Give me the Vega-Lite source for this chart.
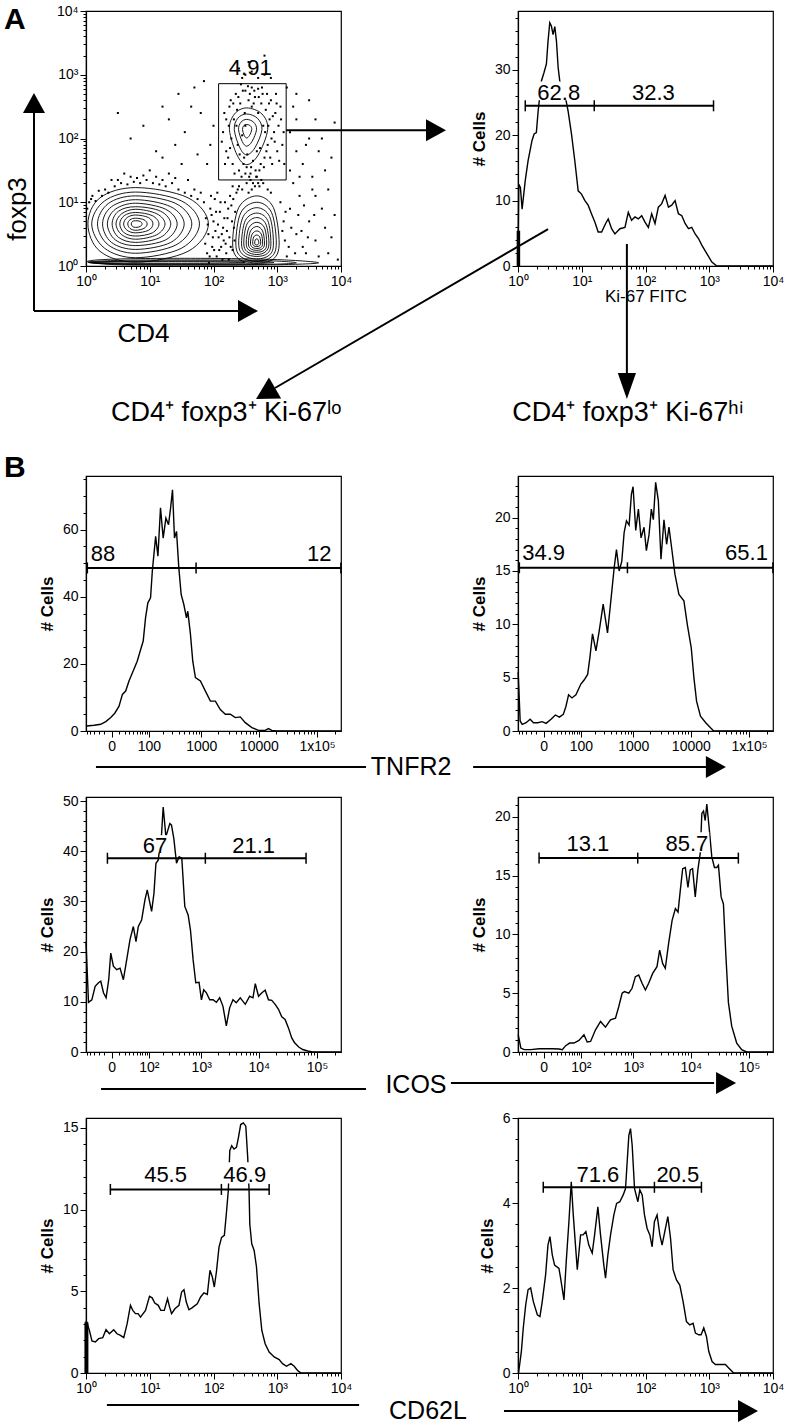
{
"$schema":"https://vega.github.io/schema/vega-lite/v6.json",
"background":"white",
"padding":{"left":3,"top":3,"right":2,"bottom":0},
"autosize":{"type":"pad"},
"columns":2,
"spacing":{"row":0,"column":177},
"bounds":"flush",
"config":{
 "font":"Liberation Sans",
 "view":{"stroke":"black","strokeWidth":1.2},
 "axis":{"domainColor":"black","domainWidth":1.2,"tickColor":"black","tickWidth":1,"labelColor":"black","titleColor":"black","labelFont":"Liberation Sans","titleFont":"Liberation Sans","labelFontSize":14,"labelPadding":2,"grid":false,"labelOverlap":false,"labelFlush":false,"titleFontSize":17,"titleFontWeight":"bold","titlePadding":6},
 "text":{"font":"Liberation Sans","color":"black"}
},
"concat":[
{
 "width":255,"height":255,
 "encoding":{
  "x":{"field":"x","type":"quantitative","scale":{"domain":[0,4],"nice":false,"zero":false},"axis":{"values":[0,0.301,0.477,0.602,0.699,0.778,0.845,0.903,0.954,1,1.301,1.477,1.602,1.699,1.778,1.845,1.903,1.954,2,2.301,2.477,2.602,2.699,2.778,2.845,2.903,2.954,3,3.301,3.477,3.602,3.699,3.778,3.845,3.903,3.954,4],"labelExpr":"datum.value == 0 ? '10\u2070' : datum.value == 1 ? '10\u00b9' : datum.value == 2 ? '10\u00b2' : datum.value == 3 ? '10\u00b3' : datum.value == 4 ? '10\u2074' : ''","tickSize":{"condition":{"test":"datum.value % 1 == 0","value":6},"value":3},"title":null}},
  "y":{"field":"y","type":"quantitative","scale":{"domain":[0,4],"nice":false,"zero":false},"axis":{"values":[0,0.301,0.477,0.602,0.699,0.778,0.845,0.903,0.954,1,1.301,1.477,1.602,1.699,1.778,1.845,1.903,1.954,2,2.301,2.477,2.602,2.699,2.778,2.845,2.903,2.954,3,3.301,3.477,3.602,3.699,3.778,3.845,3.903,3.954,4],"labelExpr":"datum.value == 0 ? '10\u2070' : datum.value == 1 ? '10\u00b9' : datum.value == 2 ? '10\u00b2' : datum.value == 3 ? '10\u00b3' : datum.value == 4 ? '10\u2074' : ''","tickSize":{"condition":{"test":"datum.value % 1 == 0","value":6},"value":3},"title":null}}
 },
 "layer":[
  {"data":{"values":[
{"c":"b1a","i":0,"x":1.92,"y":0.66},{"c":"b1a","i":1,"x":1.6,"y":1.07},{"c":"b1a","i":2,"x":0.78,"y":1.23},{"c":"b1a","i":3,"x":0.22,"y":1.07},{"c":"b1a","i":4,"x":0.03,"y":0.66},{"c":"b1a","i":5,"x":0.22,"y":0.23},{"c":"b1a","i":6,"x":0.78,"y":0.06},{"c":"b1a","i":7,"x":1.6,"y":0.23},
{"c":"b1b","i":0,"x":1.78,"y":0.66},{"c":"b1b","i":1,"x":1.5,"y":1.02},{"c":"b1b","i":2,"x":0.78,"y":1.16},{"c":"b1b","i":3,"x":0.29,"y":1.02},{"c":"b1b","i":4,"x":0.09,"y":0.66},{"c":"b1b","i":5,"x":0.29,"y":0.28},{"c":"b1b","i":6,"x":0.78,"y":0.13},{"c":"b1b","i":7,"x":1.5,"y":0.28},
{"c":"b1c","i":0,"x":1.66,"y":0.66},{"c":"b1c","i":1,"x":1.41,"y":0.98},{"c":"b1c","i":2,"x":0.78,"y":1.1},{"c":"b1c","i":3,"x":0.35,"y":0.98},{"c":"b1c","i":4,"x":0.18,"y":0.66},{"c":"b1c","i":5,"x":0.35,"y":0.33},{"c":"b1c","i":6,"x":0.78,"y":0.2},{"c":"b1c","i":7,"x":1.41,"y":0.33},
{"c":"b1d","i":0,"x":1.54,"y":0.66},{"c":"b1d","i":1,"x":1.33,"y":0.93},{"c":"b1d","i":2,"x":0.78,"y":1.04},{"c":"b1d","i":3,"x":0.4,"y":0.93},{"c":"b1d","i":4,"x":0.26,"y":0.66},{"c":"b1d","i":5,"x":0.4,"y":0.37},{"c":"b1d","i":6,"x":0.78,"y":0.26},{"c":"b1d","i":7,"x":1.33,"y":0.37},
{"c":"b1e","i":0,"x":1.43,"y":0.66},{"c":"b1e","i":1,"x":1.25,"y":0.89},{"c":"b1e","i":2,"x":0.78,"y":0.985},{"c":"b1e","i":3,"x":0.46,"y":0.89},{"c":"b1e","i":4,"x":0.335,"y":0.66},{"c":"b1e","i":5,"x":0.46,"y":0.41},{"c":"b1e","i":6,"x":0.78,"y":0.32},{"c":"b1e","i":7,"x":1.25,"y":0.41},
{"c":"b1f","i":0,"x":1.33,"y":0.66},{"c":"b1f","i":1,"x":1.17,"y":0.86},{"c":"b1f","i":2,"x":0.78,"y":0.93},{"c":"b1f","i":3,"x":0.51,"y":0.86},{"c":"b1f","i":4,"x":0.41,"y":0.66},{"c":"b1f","i":5,"x":0.51,"y":0.45},{"c":"b1f","i":6,"x":0.78,"y":0.37},{"c":"b1f","i":7,"x":1.17,"y":0.45},
{"c":"b1g","i":0,"x":1.24,"y":0.66},{"c":"b1g","i":1,"x":1.11,"y":0.82},{"c":"b1g","i":2,"x":0.78,"y":0.89},{"c":"b1g","i":3,"x":0.56,"y":0.82},{"c":"b1g","i":4,"x":0.47,"y":0.66},{"c":"b1g","i":5,"x":0.56,"y":0.49},{"c":"b1g","i":6,"x":0.78,"y":0.42},{"c":"b1g","i":7,"x":1.11,"y":0.49},
{"c":"b1h","i":0,"x":1.145,"y":0.66},{"c":"b1h","i":1,"x":1.04,"y":0.79},{"c":"b1h","i":2,"x":0.78,"y":0.84},{"c":"b1h","i":3,"x":0.6,"y":0.79},{"c":"b1h","i":4,"x":0.53,"y":0.66},{"c":"b1h","i":5,"x":0.6,"y":0.52},{"c":"b1h","i":6,"x":0.78,"y":0.47},{"c":"b1h","i":7,"x":1.04,"y":0.52},
{"c":"b1i","i":0,"x":1.05,"y":0.66},{"c":"b1i","i":1,"x":0.98,"y":0.76},{"c":"b1i","i":2,"x":0.78,"y":0.8},{"c":"b1i","i":3,"x":0.645,"y":0.76},{"c":"b1i","i":4,"x":0.59,"y":0.66},{"c":"b1i","i":5,"x":0.645,"y":0.56},{"c":"b1i","i":6,"x":0.78,"y":0.52},{"c":"b1i","i":7,"x":0.98,"y":0.56},
{"c":"b1j","i":0,"x":0.96,"y":0.66},{"c":"b1j","i":1,"x":0.91,"y":0.725},{"c":"b1j","i":2,"x":0.78,"y":0.75},{"c":"b1j","i":3,"x":0.69,"y":0.725},{"c":"b1j","i":4,"x":0.655,"y":0.66},{"c":"b1j","i":5,"x":0.69,"y":0.59},{"c":"b1j","i":6,"x":0.78,"y":0.56},{"c":"b1j","i":7,"x":0.91,"y":0.59},
{"c":"b1k","i":0,"x":0.88,"y":0.66},{"c":"b1k","i":1,"x":0.85,"y":0.7},{"c":"b1k","i":2,"x":0.78,"y":0.71},{"c":"b1k","i":3,"x":0.73,"y":0.7},{"c":"b1k","i":4,"x":0.71,"y":0.66},{"c":"b1k","i":5,"x":0.73,"y":0.62},{"c":"b1k","i":6,"x":0.78,"y":0.605},{"c":"b1k","i":7,"x":0.85,"y":0.62},
{"c":"b2a","i":0,"x":3.03,"y":0.36},{"c":"b2a","i":1,"x":2.94,"y":0.915},{"c":"b2a","i":2,"x":2.68,"y":1.1},{"c":"b2a","i":3,"x":2.395,"y":0.915},{"c":"b2a","i":4,"x":2.3,"y":0.36},{"c":"b2a","i":5,"x":2.395,"y":0.11},{"c":"b2a","i":6,"x":2.68,"y":0.05},{"c":"b2a","i":7,"x":2.94,"y":0.11},
{"c":"b2b","i":0,"x":2.985,"y":0.36},{"c":"b2b","i":1,"x":2.91,"y":0.84},{"c":"b2b","i":2,"x":2.68,"y":1.0},{"c":"b2b","i":3,"x":2.43,"y":0.84},{"c":"b2b","i":4,"x":2.35,"y":0.36},{"c":"b2b","i":5,"x":2.43,"y":0.145},{"c":"b2b","i":6,"x":2.68,"y":0.073},{"c":"b2b","i":7,"x":2.91,"y":0.145},
{"c":"b2c","i":0,"x":2.94,"y":0.36},{"c":"b2c","i":1,"x":2.88,"y":0.776},{"c":"b2c","i":2,"x":2.68,"y":0.915},{"c":"b2c","i":3,"x":2.466,"y":0.776},{"c":"b2c","i":4,"x":2.395,"y":0.36},{"c":"b2c","i":5,"x":2.466,"y":0.174},{"c":"b2c","i":6,"x":2.68,"y":0.11},{"c":"b2c","i":7,"x":2.88,"y":0.174},
{"c":"b2d","i":0,"x":2.9,"y":0.36},{"c":"b2d","i":1,"x":2.85,"y":0.715},{"c":"b2d","i":2,"x":2.68,"y":0.83},{"c":"b2d","i":3,"x":2.5,"y":0.715},{"c":"b2d","i":4,"x":2.44,"y":0.36},{"c":"b2d","i":5,"x":2.5,"y":0.2},{"c":"b2d","i":6,"x":2.68,"y":0.15},{"c":"b2d","i":7,"x":2.85,"y":0.2},
{"c":"b2e","i":0,"x":2.87,"y":0.36},{"c":"b2e","i":1,"x":2.82,"y":0.66},{"c":"b2e","i":2,"x":2.68,"y":0.76},{"c":"b2e","i":3,"x":2.526,"y":0.66},{"c":"b2e","i":4,"x":2.475,"y":0.36},{"c":"b2e","i":5,"x":2.526,"y":0.226},{"c":"b2e","i":6,"x":2.68,"y":0.18},{"c":"b2e","i":7,"x":2.82,"y":0.226},
{"c":"b2f","i":0,"x":2.834,"y":0.36},{"c":"b2f","i":1,"x":2.8,"y":0.6},{"c":"b2f","i":2,"x":2.68,"y":0.686},{"c":"b2f","i":3,"x":2.555,"y":0.6},{"c":"b2f","i":4,"x":2.513,"y":0.36},{"c":"b2f","i":5,"x":2.555,"y":0.25},{"c":"b2f","i":6,"x":2.68,"y":0.215},{"c":"b2f","i":7,"x":2.8,"y":0.25},
{"c":"b2g","i":0,"x":2.8,"y":0.36},{"c":"b2g","i":1,"x":2.77,"y":0.55},{"c":"b2g","i":2,"x":2.68,"y":0.62},{"c":"b2g","i":3,"x":2.58,"y":0.55},{"c":"b2g","i":4,"x":2.547,"y":0.36},{"c":"b2g","i":5,"x":2.58,"y":0.273},{"c":"b2g","i":6,"x":2.68,"y":0.245},{"c":"b2g","i":7,"x":2.77,"y":0.273},
{"c":"b2h","i":0,"x":2.77,"y":0.36},{"c":"b2h","i":1,"x":2.75,"y":0.5},{"c":"b2h","i":2,"x":2.68,"y":0.55},{"c":"b2h","i":3,"x":2.606,"y":0.5},{"c":"b2h","i":4,"x":2.58,"y":0.36},{"c":"b2h","i":5,"x":2.606,"y":0.295},{"c":"b2h","i":6,"x":2.68,"y":0.274},{"c":"b2h","i":7,"x":2.75,"y":0.295},
{"c":"b2i","i":0,"x":2.74,"y":0.36},{"c":"b2i","i":1,"x":2.725,"y":0.455},{"c":"b2i","i":2,"x":2.68,"y":0.486},{"c":"b2i","i":3,"x":2.63,"y":0.455},{"c":"b2i","i":4,"x":2.615,"y":0.36},{"c":"b2i","i":5,"x":2.63,"y":0.318},{"c":"b2i","i":6,"x":2.68,"y":0.304},{"c":"b2i","i":7,"x":2.725,"y":0.318},
{"c":"b2j","i":0,"x":2.712,"y":0.36},{"c":"b2j","i":1,"x":2.7,"y":0.41},{"c":"b2j","i":2,"x":2.68,"y":0.427},{"c":"b2j","i":3,"x":2.655,"y":0.41},{"c":"b2j","i":4,"x":2.646,"y":0.36},{"c":"b2j","i":5,"x":2.655,"y":0.338},{"c":"b2j","i":6,"x":2.68,"y":0.33},{"c":"b2j","i":7,"x":2.7,"y":0.338},
{"c":"b3a","i":0,"x":2.85,"y":2.14},{"c":"b3a","i":1,"x":2.76,"y":2.385},{"c":"b3a","i":2,"x":2.52,"y":2.48},{"c":"b3a","i":3,"x":2.33,"y":2.385},{"c":"b3a","i":4,"x":2.25,"y":2.14},{"c":"b3a","i":5,"x":2.37,"y":1.74},{"c":"b3a","i":6,"x":2.52,"y":1.59},{"c":"b3a","i":7,"x":2.7,"y":1.74},
{"c":"b3b","i":0,"x":2.76,"y":2.14},{"c":"b3b","i":1,"x":2.69,"y":2.316},{"c":"b3b","i":2,"x":2.52,"y":2.385},{"c":"b3b","i":3,"x":2.38,"y":2.316},{"c":"b3b","i":4,"x":2.326,"y":2.14},{"c":"b3b","i":5,"x":2.413,"y":1.855},{"c":"b3b","i":6,"x":2.52,"y":1.744},{"c":"b3b","i":7,"x":2.65,"y":1.855},
{"c":"b3c","i":0,"x":2.675,"y":2.14},{"c":"b3c","i":1,"x":2.63,"y":2.255},{"c":"b3c","i":2,"x":2.52,"y":2.3},{"c":"b3c","i":3,"x":2.43,"y":2.255},{"c":"b3c","i":4,"x":2.393,"y":2.14},{"c":"b3c","i":5,"x":2.45,"y":1.954},{"c":"b3c","i":6,"x":2.52,"y":1.88},{"c":"b3c","i":7,"x":2.605,"y":1.954},
{"c":"b3d","i":0,"x":2.6,"y":2.14},{"c":"b3d","i":1,"x":2.577,"y":2.2},{"c":"b3d","i":2,"x":2.52,"y":2.22},{"c":"b3d","i":3,"x":2.473,"y":2.2},{"c":"b3d","i":4,"x":2.455,"y":2.14},{"c":"b3d","i":5,"x":2.484,"y":2.045},{"c":"b3d","i":6,"x":2.52,"y":2.008},{"c":"b3d","i":7,"x":2.563,"y":2.045},
{"c":"bda","i":0,"x":3.65,"y":0.05},{"c":"bda","i":1,"x":3.0,"y":0.1},{"c":"bda","i":2,"x":1.8,"y":0.12},{"c":"bda","i":3,"x":0.5,"y":0.11},{"c":"bda","i":4,"x":0.02,"y":0.07},{"c":"bda","i":5,"x":0.5,"y":0.02},{"c":"bda","i":6,"x":1.8,"y":0.015},{"c":"bda","i":7,"x":3.0,"y":0.02},
{"c":"bdb","i":0,"x":3.3,"y":0.05},{"c":"bdb","i":1,"x":2.8,"y":0.085},{"c":"bdb","i":2,"x":1.8,"y":0.095},{"c":"bdb","i":3,"x":0.6,"y":0.09},{"c":"bdb","i":4,"x":0.03,"y":0.06},{"c":"bdb","i":5,"x":0.6,"y":0.025},{"c":"bdb","i":6,"x":1.8,"y":0.02},{"c":"bdb","i":7,"x":2.8,"y":0.025},
{"c":"bdc","i":0,"x":2.95,"y":0.055},{"c":"bdc","i":1,"x":2.5,"y":0.075},{"c":"bdc","i":2,"x":1.6,"y":0.08},{"c":"bdc","i":3,"x":0.6,"y":0.075},{"c":"bdc","i":4,"x":0.05,"y":0.055},{"c":"bdc","i":5,"x":0.6,"y":0.035},{"c":"bdc","i":6,"x":1.6,"y":0.03},{"c":"bdc","i":7,"x":2.5,"y":0.035},
{"c":"bdd","i":0,"x":2.5,"y":0.055},{"c":"bdd","i":1,"x":2.1,"y":0.065},{"c":"bdd","i":2,"x":1.4,"y":0.068},{"c":"bdd","i":3,"x":0.5,"y":0.065},{"c":"bdd","i":4,"x":0.1,"y":0.055},{"c":"bdd","i":5,"x":0.5,"y":0.045},{"c":"bdd","i":6,"x":1.4,"y":0.042},{"c":"bdd","i":7,"x":2.1,"y":0.045}
  ]},"mark":{"type":"line","color":"black","strokeWidth":0.9,"interpolate":"cardinal-closed"},"encoding":{"detail":{"field":"c"},"order":{"field":"i","type":"quantitative"}}},
  {"data":{"values":[
{"x":2.15,"y":2.1},{"x":2.2,"y":1.8},{"x":2.25,"y":2.5},{"x":2.3,"y":1.6},{"x":2.32,"y":2.3},{"x":2.35,"y":2.7},{"x":2.38,"y":1.9},{"x":2.4,"y":1.5},{"x":2.42,"y":2.55},{"x":2.45,"y":2.05},{"x":2.48,"y":1.7},{"x":2.5,"y":2.75},{"x":2.52,"y":1.55},{"x":2.55,"y":2.6},{"x":2.58,"y":1.45},{"x":2.6,"y":2.5},{"x":2.62,"y":1.65},{"x":2.65,"y":2.65},{"x":2.68,"y":1.8},{"x":2.7,"y":2.4},{"x":2.72,"y":1.5},{"x":2.75,"y":2.55},{"x":2.78,"y":2.2},{"x":2.8,"y":1.7},{"x":2.82,"y":2.45},{"x":2.85,"y":1.9},{"x":2.88,"y":2.3},{"x":2.9,"y":2.6},{"x":2.92,"y":1.6},{"x":2.95,"y":2.1},{"x":2.97,"y":2.4},{"x":3.0,"y":1.8},{"x":3.02,"y":2.2},{"x":3.05,"y":2.5},{"x":3.08,"y":1.9},{"x":2.28,"y":2.0},{"x":2.36,"y":2.2},{"x":2.44,"y":1.4},{"x":2.56,"y":1.4},{"x":2.66,"y":1.5},{"x":2.74,"y":1.6},{"x":2.84,"y":2.7},{"x":2.6,"y":2.8},{"x":2.7,"y":2.78},{"x":2.5,"y":2.2},{"x":2.2,"y":2.3},{"x":2.18,"y":1.6},{"x":2.98,"y":2.7},
{"x":2.13,"y":1.95},{"x":2.17,"y":2.4},{"x":2.23,"y":1.7},{"x":2.27,"y":2.6},{"x":2.33,"y":1.45},{"x":2.37,"y":2.45},{"x":2.41,"y":1.75},{"x":2.43,"y":2.85},{"x":2.47,"y":1.6},{"x":2.49,"y":2.4},{"x":2.53,"y":1.75},{"x":2.57,"y":2.7},{"x":2.59,"y":1.55},{"x":2.63,"y":2.55},{"x":2.67,"y":1.4},{"x":2.71,"y":2.65},{"x":2.73,"y":1.85},{"x":2.77,"y":2.7},{"x":2.79,"y":1.55},{"x":2.81,"y":2.1},{"x":2.83,"y":1.8},{"x":2.87,"y":2.55},{"x":2.89,"y":1.7},{"x":2.93,"y":2.35},{"x":2.96,"y":1.95},{"x":2.99,"y":2.55},{"x":3.03,"y":1.65},{"x":3.06,"y":2.3},{"x":3.1,"y":2.1},{"x":3.11,"y":1.6},{"x":2.24,"y":2.2},{"x":2.26,"y":1.85},{"x":2.31,"y":2.55},{"x":2.39,"y":2.65},{"x":2.46,"y":2.75},{"x":2.54,"y":2.82},{"x":2.64,"y":2.75},{"x":2.76,"y":2.8},{"x":2.86,"y":2.2},{"x":2.91,"y":2.0},
{"x":2.5,"y":3.0},{"x":2.7,"y":2.95},{"x":2.9,"y":2.95},{"x":2.4,"y":3.1},{"x":2.55,"y":3.2},{"x":2.8,"y":3.3},{"x":2.45,"y":2.95},
{"x":2.65,"y":1.25},{"x":2.7,"y":1.3},{"x":2.6,"y":1.2},{"x":2.75,"y":1.35},{"x":3.2,"y":2.1},{"x":3.3,"y":1.8},{"x":2.0,"y":2.2},{"x":1.95,"y":1.9},{"x":3.25,"y":2.5},{"x":2.6,"y":3.05},{"x":2.8,"y":3.0},
{"x":2.52,"y":1.3},{"x":2.58,"y":1.35},{"x":2.62,"y":1.3},{"x":2.68,"y":1.4},{"x":2.72,"y":1.25},{"x":2.78,"y":1.3},{"x":2.55,"y":1.15},{"x":2.85,"y":1.2},{"x":2.5,"y":1.45},
{"x":1.9,"y":0.2},{"x":1.92,"y":0.5},{"x":1.95,"y":0.9},{"x":1.98,"y":0.3},{"x":2.0,"y":0.7},{"x":2.02,"y":1.05},{"x":2.05,"y":0.15},{"x":2.08,"y":0.45},{"x":2.1,"y":0.85},{"x":2.12,"y":0.3},{"x":2.15,"y":0.6},{"x":2.18,"y":1.0},{"x":2.2,"y":0.2},{"x":2.22,"y":0.75},{"x":2.25,"y":0.45},{"x":2.28,"y":0.95},{"x":2.3,"y":0.25},{"x":2.32,"y":0.6},{"x":1.88,"y":0.75},{"x":2.06,"y":1.15},{"x":1.96,"y":1.1},{"x":2.14,"y":0.1},{"x":2.26,"y":1.1},{"x":2.34,"y":0.85},{"x":2.03,"y":0.55},{"x":2.16,"y":0.4},{"x":2.24,"y":0.1},{"x":1.93,"y":0.05},
{"x":1.87,"y":0.35},{"x":1.91,"y":0.65},{"x":1.94,"y":0.15},{"x":1.97,"y":0.8},{"x":1.99,"y":0.45},{"x":2.01,"y":0.25},{"x":2.04,"y":0.85},{"x":2.07,"y":0.65},{"x":2.09,"y":0.25},{"x":2.11,"y":1.0},{"x":2.13,"y":0.5},{"x":2.17,"y":0.75},{"x":2.19,"y":0.35},{"x":2.21,"y":0.55},{"x":2.23,"y":0.9},{"x":2.27,"y":0.3},{"x":2.29,"y":0.7},{"x":2.31,"y":1.05},{"x":2.33,"y":0.4},{"x":2.36,"y":1.15},{"x":2.38,"y":1.2},{"x":2.4,"y":1.25},
{"x":2.3,"y":1.25},{"x":2.45,"y":1.2},{"x":2.9,"y":1.15},{"x":3.05,"y":1.0},{"x":3.1,"y":0.7},{"x":3.12,"y":0.4},{"x":3.15,"y":0.15},{"x":3.2,"y":0.9},{"x":3.3,"y":0.5},{"x":3.35,"y":1.1},{"x":3.4,"y":0.3},{"x":3.5,"y":0.7},{"x":3.45,"y":0.2},{"x":3.6,"y":0.4},{"x":3.7,"y":0.9},{"x":3.8,"y":0.2},{"x":3.25,"y":1.3},{"x":3.55,"y":1.2},
{"x":3.08,"y":0.55},{"x":3.13,"y":0.85},{"x":3.18,"y":0.3},{"x":3.22,"y":0.6},{"x":3.28,"y":0.2},{"x":3.33,"y":0.8},{"x":3.38,"y":0.55},{"x":3.42,"y":0.95},{"x":3.48,"y":0.45},{"x":3.58,"y":0.8},{"x":3.65,"y":0.15},{"x":3.75,"y":0.6},{"x":3.85,"y":0.45},
{"x":3.2,"y":1.5},{"x":3.35,"y":1.4},{"x":3.45,"y":1.9},{"x":3.6,"y":2.3},{"x":3.7,"y":2.0},{"x":3.3,"y":2.7},{"x":3.15,"y":2.8},
{"x":0.05,"y":1.0},{"x":0.08,"y":1.05},{"x":0.15,"y":1.02},{"x":0.25,"y":1.1},{"x":0.35,"y":1.15},{"x":0.45,"y":1.25},{"x":0.55,"y":1.3},{"x":0.65,"y":1.28},{"x":0.75,"y":1.32},{"x":0.85,"y":1.3},{"x":0.95,"y":1.35},{"x":1.05,"y":1.3},{"x":1.15,"y":1.28},{"x":1.25,"y":1.25},{"x":1.35,"y":1.3},{"x":1.45,"y":1.2},{"x":1.55,"y":1.15},{"x":1.65,"y":1.1},{"x":1.75,"y":1.05},{"x":1.85,"y":1.0},{"x":0.6,"y":1.45},{"x":1.0,"y":1.5},{"x":1.3,"y":1.45},{"x":1.6,"y":1.35},{"x":0.4,"y":1.35},{"x":1.5,"y":1.6},{"x":1.2,"y":1.7},
{"x":0.1,"y":1.1},{"x":0.2,"y":1.18},{"x":0.3,"y":1.2},{"x":0.5,"y":1.35},{"x":0.7,"y":1.4},{"x":0.8,"y":1.38},{"x":0.9,"y":1.42},{"x":1.1,"y":1.4},{"x":1.2,"y":1.35},{"x":1.4,"y":1.38},{"x":1.7,"y":1.2},{"x":1.8,"y":1.15},{"x":0.02,"y":0.9},
{"x":0.5,"y":2.4},{"x":0.7,"y":2.0},{"x":0.9,"y":2.2},{"x":1.1,"y":1.8},{"x":1.3,"y":2.3},{"x":1.4,"y":1.9},{"x":1.55,"y":2.1},{"x":1.65,"y":2.5},{"x":1.75,"y":1.75},{"x":1.8,"y":2.4},{"x":1.85,"y":2.9},{"x":1.9,"y":1.6},{"x":1.7,"y":2.8},{"x":1.45,"y":2.7},{"x":1.2,"y":2.5},{"x":3.3,"y":2.3},{"x":3.4,"y":1.6},{"x":3.5,"y":2.0},{"x":3.55,"y":1.4},{"x":3.65,"y":1.8},{"x":3.75,"y":1.5},{"x":3.85,"y":1.7},{"x":3.9,"y":2.25},{"x":3.5,"y":2.6},{"x":3.6,"y":1.1},{"x":3.8,"y":1.2},{"x":3.9,"y":0.8},{"x":3.95,"y":0.1}
  ]},"mark":{"type":"square","color":"black","size":4,"opacity":1}},
  {"data":{"values":[{"x":2.08,"x2":3.14,"y":1.35,"y2":2.86}]},"mark":{"type":"rect","fillOpacity":0,"stroke":"black","strokeWidth":1},"encoding":{"x2":{"field":"x2"},"y2":{"field":"y2"}}},
  {"data":{"values":[{"x":2.576,"y":3.11,"t":"4.91"}]},"mark":{"type":"text","fontSize":22,"align":"center","baseline":"middle"},"encoding":{"text":{"field":"t"}}},
  {"data":{"values":[{"x":-0.816,"y":-0.706,"x2":-0.816,"y2":2.4},{"x":-0.816,"y":-0.706,"x2":2.384,"y2":-0.706},{"x":3.14,"y":2.13,"x2":5.333,"y2":2.13}]},"mark":{"type":"rule","color":"black","strokeWidth":2,"clip":false},"encoding":{"x2":{"field":"x2"},"y2":{"field":"y2"}}},
  {"data":{"values":[{"x":-0.816,"y":2.557,"a":270,"s":400},{"x":2.541,"y":-0.706,"a":0,"s":400},{"x":5.49,"y":2.13,"a":0,"s":400}]},"mark":{"type":"point","shape":"M-1,-1.1L1,0L-1,1.1Z","filled":true,"opacity":1,"color":"black","clip":false},"encoding":{"angle":{"field":"a","type":"quantitative","scale":null},"size":{"field":"s","type":"quantitative","scale":null}}},
  {"data":{"values":[{"x":0.9,"y":-1.067,"t":"CD4"}]},"mark":{"type":"text","fontSize":26,"align":"center","baseline":"middle","clip":false},"encoding":{"text":{"field":"t"}}},
  {"data":{"values":[{"x":-1.067,"y":0.894,"t":"foxp3"}]},"mark":{"type":"text","fontSize":26,"align":"center","baseline":"middle","angle":270,"clip":false},"encoding":{"text":{"field":"t"}}},
  {"data":{"values":[{"x":-1.286,"y":4.094,"t":"A"}]},"mark":{"type":"text","fontSize":30,"fontWeight":"bold","align":"left","baseline":"top","clip":false},"encoding":{"text":{"field":"t"}}}
 ]
},
{
 "width":255,"height":255,
 "encoding":{
  "x":{"field":"x","type":"quantitative","scale":{"type":"log","domain":[1,10000],"nice":false},"axis":{"values":[1,2,3,4,5,6,7,8,9,10,20,30,40,50,60,70,80,90,100,200,300,400,500,600,700,800,900,1000,2000,3000,4000,5000,6000,7000,8000,9000,10000],"labelExpr":"datum.value == 1 ? '10\u2070' : datum.value == 10 ? '10\u00b9' : datum.value == 100 ? '10\u00b2' : datum.value == 1000 ? '10\u00b3' : datum.value == 10000 ? '10\u2074' : ''","tickSize":{"condition":{"test":"indexof([1,10,100,1000,10000], datum.value) >= 0","value":6},"value":3},"title":"Ki-67 FITC","titleFontSize":17,"titleFontWeight":"normal","titlePadding":0}},
  "y":{"field":"y","type":"quantitative","scale":{"domain":[0,39],"nice":false,"zero":false},"axis":{"values":[0,2,4,6,8,10,12,14,16,18,20,22,24,26,28,30,32,34,36,38],"labelExpr":"datum.value % 10 == 0 ? datum.label : ''","tickSize":{"condition":{"test":"datum.value % 10 == 0","value":6},"value":3},"title":"# Cells","titleFontSize":17,"titleFontWeight":"bold"}}
 },
 "layer":[
  {"data":{"values":[{"x":1,"y":0},{"x":1.03,"y":12.5},{"x":1.09,"y":12.0},{"x":1.16,"y":8.7},{"x":1.3,"y":13.1},{"x":1.44,"y":16.1},{"x":1.66,"y":19.2},{"x":1.79,"y":20.2},{"x":1.94,"y":20.4},{"x":2.07,"y":23.7},{"x":2.33,"y":28.3},{"x":2.56,"y":29.6},{"x":2.79,"y":30.9},{"x":2.96,"y":34.4},{"x":3.15,"y":37.2},{"x":3.34,"y":36.7},{"x":3.55,"y":35.4},{"x":3.78,"y":36.6},{"x":4.01,"y":34.4},{"x":4.26,"y":30.4},{"x":4.52,"y":28.3},{"x":5.42,"y":26.3},{"x":6.11,"y":23.7},{"x":6.9,"y":20.2},{"x":7.78,"y":16.1},{"x":8.79,"y":11.5},{"x":9.9,"y":11.0},{"x":11.2,"y":10.0},{"x":12.6,"y":9.3},{"x":14.2,"y":8.0},{"x":16.1,"y":6.7},{"x":18.1,"y":5.2},{"x":20.5,"y":5.2},{"x":23.7,"y":6.5},{"x":26,"y":7.2},{"x":29.4,"y":5.7},{"x":33.1,"y":4.9},{"x":39.7,"y":5.7},{"x":47.6,"y":5.9},{"x":53.7,"y":8.2},{"x":60.5,"y":7.0},{"x":68.4,"y":7.5},{"x":77.1,"y":7.2},{"x":87.1,"y":7.7},{"x":98.2,"y":6.7},{"x":111,"y":5.9},{"x":125,"y":8.0},{"x":141,"y":6.5},{"x":159,"y":9.0},{"x":179,"y":9.5},{"x":203,"y":10.8},{"x":229,"y":9.0},{"x":258,"y":9.3},{"x":291,"y":10.0},{"x":328,"y":8.0},{"x":371,"y":7.7},{"x":418,"y":6.5},{"x":472,"y":5.7},{"x":532,"y":5.9},{"x":601,"y":4.9},{"x":678,"y":4.2},{"x":764,"y":3.2},{"x":916,"y":1.9},{"x":1099,"y":0.6},{"x":1315,"y":0},{"x":10000,"y":0}]},"mark":{"type":"line","color":"black","strokeWidth":1.4}},
  {"data":{"values":[{"x":1.015,"y":0,"y2":5.4}]},"mark":{"type":"rule","color":"black","strokeWidth":3.5},"encoding":{"y2":{"field":"y2"}}},
  {"data":{"values":[{"x":1.94,"x2":9.84,"y":25.35,"y2":28.2}]},"mark":{"type":"rect","color":"white","opacity":1},"encoding":{"x2":{"field":"x2"},"y2":{"field":"y2"}}},
  {"data":{"values":[{"x":1.3,"x2":1167,"y":24.5}]},"mark":{"type":"rule","color":"black","strokeWidth":2},"encoding":{"x2":{"field":"x2"}}},
  {"data":{"values":[{"x":1.3,"y":24.5},{"x":15.7,"y":24.5},{"x":1167,"y":24.5}]},"mark":{"type":"tick","orient":"vertical","color":"black","size":11,"thickness":1.5,"opacity":1}},
  {"data":{"values":[{"x":4.36,"y":25.4,"t":"62.8"},{"x":133,"y":25.4,"t":"32.3"}]},"mark":{"type":"text","fontSize":22,"align":"center","baseline":"alphabetic"},"encoding":{"text":{"field":"t"}}}
 ]
},
{
 "width":255,"height":210,"view":{"stroke":null},
 "encoding":{"x":{"field":"x","type":"quantitative","scale":{"domain":[0,1],"nice":false,"zero":false},"axis":null},"y":{"field":"y","type":"quantitative","scale":{"domain":[0,1],"nice":false,"zero":false},"axis":null}},
 "layer":[
  {"data":{"values":[{"x":-0.322,"y":0.11,"t":"B"}]},"mark":{"type":"text","fontSize":30,"fontWeight":"bold","align":"left","baseline":"top","clip":false},"encoding":{"text":{"field":"t"}}},
  {"data":{"values":[{"x":0.55,"y":0.262,"t":"CD4\u207a foxp3\u207a Ki-67\u02e1\u1d52"}]},"mark":{"type":"text","fontSize":27,"align":"center","baseline":"alphabetic","clip":false},"encoding":{"text":{"field":"t"}}}
 ]
},
{
 "width":255,"height":210,"view":{"stroke":null},
 "encoding":{"x":{"field":"x","type":"quantitative","scale":{"domain":[0,1],"nice":false,"zero":false},"axis":null},"y":{"field":"y","type":"quantitative","scale":{"domain":[0,1],"nice":false,"zero":false},"axis":null}},
 "layer":[
  {"data":{"values":[{"x":0.431,"y":0.262,"t":"CD4\u207a foxp3\u207a Ki-67\u02b0\u2071"}]},"mark":{"type":"text","fontSize":27,"align":"center","baseline":"alphabetic","clip":false},"encoding":{"text":{"field":"t"}}},
  {"data":{"values":[{"x":0.118,"y":1.176,"x2":-0.953,"y2":0.419},{"x":0.427,"y":1.105,"x2":0.427,"y2":0.49}]},"mark":{"type":"rule","color":"black","strokeWidth":2,"clip":false},"encoding":{"x2":{"field":"x2"},"y2":{"field":"y2"}}},
  {"data":{"values":[{"x":-0.99,"y":0.393,"a":149.8,"s":484}]},"mark":{"type":"point","shape":"M-1,-1.1L1,0L-1,1.1Z","filled":true,"opacity":1,"color":"black","clip":false},"encoding":{"angle":{"field":"a","type":"quantitative","scale":null},"size":{"field":"s","type":"quantitative","scale":null}}},
  {"data":{"values":[{"x":0.427,"y":0.429,"a":90,"s":676}]},"mark":{"type":"point","shape":"M-1,-0.7L1,0L-1,0.7Z","filled":true,"opacity":1,"color":"black","clip":false},"encoding":{"angle":{"field":"a","type":"quantitative","scale":null},"size":{"field":"s","type":"quantitative","scale":null}}}
 ]
},
{
 "width":255,"height":255,
 "encoding":{
  "x":{"field":"x","type":"quantitative","scale":{"type":"symlog","constant":30,"domain":[-53,258000],"nice":false},"axis":{"values":[-50,-40,-30,-20,-10,0,10,20,30,40,50,60,70,80,90,100,200,300,400,500,600,700,800,900,1000,2000,3000,4000,5000,6000,7000,8000,9000,10000,20000,30000,40000,50000,60000,70000,80000,90000,100000,200000],"labelExpr":"datum.value == 0 ? '0' : datum.value == 100 ? '100' : datum.value == 1000 ? '1000' : datum.value == 10000 ? '10000' : datum.value == 100000 ? '1x10\u2075' : ''","tickSize":{"condition":{"test":"indexof([0,100,1000,10000,100000], datum.value) >= 0","value":6},"value":3},"title":null}},
  "y":{"field":"y","type":"quantitative","scale":{"domain":[0,76],"nice":false,"zero":false},"axis":{"values":[0,5,10,15,20,25,30,35,40,45,50,55,60,65,70,75],"labelExpr":"datum.value % 20 == 0 ? datum.label : ''","tickSize":{"condition":{"test":"datum.value % 20 == 0","value":6},"value":3},"title":"# Cells","titleFontSize":17,"titleFontWeight":"bold"}}
 },
 "layer":[
  {"data":{"values":[{"x":-53,"y":1.4},{"x":-50.3,"y":1.5},{"x":-30.2,"y":1.7},{"x":-16.3,"y":2.0},{"x":-8.0,"y":2.8},{"x":-1.2,"y":4.0},{"x":3.8,"y":5.3},{"x":10,"y":7.4},{"x":15.7,"y":10.9},{"x":22,"y":11.9},{"x":29.3,"y":14.9},{"x":42,"y":18.4},{"x":52,"y":20.8},{"x":64,"y":24.3},{"x":74,"y":26.8},{"x":84,"y":33.7},{"x":95,"y":38.2},{"x":109,"y":39.7},{"x":119,"y":47.6},{"x":140,"y":58.0},{"x":156,"y":52.1},{"x":176,"y":66.5},{"x":199,"y":57.5},{"x":225,"y":63.5},{"x":253,"y":61.5},{"x":277,"y":66.5},{"x":301,"y":71.9},{"x":328,"y":57.5},{"x":358,"y":59.5},{"x":395,"y":48.6},{"x":436,"y":40.7},{"x":488,"y":37.7},{"x":545,"y":33.7},{"x":576,"y":35.7},{"x":643,"y":28.8},{"x":707,"y":20.8},{"x":789,"y":15.9},{"x":967,"y":14.9},{"x":1185,"y":11.9},{"x":1449,"y":8.9},{"x":1770,"y":8.9},{"x":2160,"y":6.4},{"x":2640,"y":5.0},{"x":3220,"y":5.0},{"x":3930,"y":4.0},{"x":4790,"y":4.2},{"x":5840,"y":2.5},{"x":7600,"y":1.0},{"x":9890,"y":0.2},{"x":12860,"y":0.2},{"x":14660,"y":0.7},{"x":16700,"y":0.2},{"x":20360,"y":0},{"x":258000,"y":0}]},"mark":{"type":"line","color":"black","strokeWidth":1.4}},
  {"data":{"values":[{"x":-48.7,"x2":257000,"y":48.6}]},"mark":{"type":"rule","color":"black","strokeWidth":2},"encoding":{"x2":{"field":"x2"}}},
  {"data":{"values":[{"x":-48.7,"y":48.6},{"x":810,"y":48.6},{"x":257000,"y":48.6}]},"mark":{"type":"tick","orient":"vertical","color":"black","size":11,"thickness":1.5,"opacity":1}},
  {"data":{"values":[{"x":-38.6,"y":50.8,"t":"88"}]},"mark":{"type":"text","fontSize":22,"align":"left","baseline":"alphabetic"},"encoding":{"text":{"field":"t"}}},
  {"data":{"values":[{"x":178000,"y":50.8,"t":"12"}]},"mark":{"type":"text","fontSize":22,"align":"right","baseline":"alphabetic"},"encoding":{"text":{"field":"t"}}}
 ]
},
{
 "width":255,"height":255,
 "encoding":{
  "x":{"field":"x","type":"quantitative","scale":{"type":"symlog","constant":30,"domain":[-53,258000],"nice":false},"axis":{"values":[-50,-40,-30,-20,-10,0,10,20,30,40,50,60,70,80,90,100,200,300,400,500,600,700,800,900,1000,2000,3000,4000,5000,6000,7000,8000,9000,10000,20000,30000,40000,50000,60000,70000,80000,90000,100000,200000],"labelExpr":"datum.value == 0 ? '0' : datum.value == 100 ? '100' : datum.value == 1000 ? '1000' : datum.value == 10000 ? '10000' : datum.value == 100000 ? '1x10\u2075' : ''","tickSize":{"condition":{"test":"indexof([0,100,1000,10000,100000], datum.value) >= 0","value":6},"value":3},"title":null}},
  "y":{"field":"y","type":"quantitative","scale":{"domain":[0,23.9],"nice":false,"zero":false},"axis":{"values":[0,1,2,3,4,5,6,7,8,9,10,11,12,13,14,15,16,17,18,19,20,21,22,23],"labelExpr":"datum.value % 5 == 0 ? datum.label : ''","tickSize":{"condition":{"test":"datum.value % 5 == 0","value":6},"value":3},"title":"# Cells","titleFontSize":17,"titleFontWeight":"bold"}}
 },
 "layer":[
  {"data":{"values":[{"x":-52.4,"y":5.5},{"x":-46.2,"y":0.94},{"x":-40.4,"y":0.63},{"x":-30.2,"y":0.78},{"x":-21.4,"y":1.1},{"x":-15.1,"y":0.78},{"x":-8.0,"y":0.78},{"x":-2.0,"y":0.88},{"x":2.9,"y":0.72},{"x":10,"y":1.1},{"x":17.5,"y":1.5},{"x":25.6,"y":1.3},{"x":35,"y":1.56},{"x":42,"y":2.3},{"x":50,"y":3.4},{"x":61.5,"y":3.1},{"x":77,"y":3.4},{"x":100,"y":4.4},{"x":119,"y":4.8},{"x":140,"y":5.3},{"x":156,"y":6.9},{"x":176,"y":9.1},{"x":206,"y":7.5},{"x":239,"y":9.4},{"x":284,"y":11.9},{"x":343,"y":9.2},{"x":395,"y":12.2},{"x":455,"y":15.3},{"x":501,"y":17.0},{"x":560,"y":15.0},{"x":625,"y":15.9},{"x":689,"y":18.6},{"x":758,"y":19.7},{"x":845,"y":19.3},{"x":929,"y":22.2},{"x":993,"y":22.9},{"x":1107,"y":18.8},{"x":1233,"y":20.8},{"x":1373,"y":18.1},{"x":1548,"y":19.1},{"x":1702,"y":16.9},{"x":1893,"y":18.4},{"x":2077,"y":20.8},{"x":2250,"y":19.8},{"x":2468,"y":23.3},{"x":2748,"y":21.6},{"x":3054,"y":16.1},{"x":3440,"y":19.8},{"x":3825,"y":17.5},{"x":4196,"y":19.1},{"x":4662,"y":17.2},{"x":5322,"y":14.7},{"x":6231,"y":12.8},{"x":7600,"y":12.2},{"x":8690,"y":10.0},{"x":10170,"y":7.8},{"x":11300,"y":5.0},{"x":12550,"y":2.8},{"x":14660,"y":1.4},{"x":17900,"y":0.8},{"x":21800,"y":0.3},{"x":24800,"y":0},{"x":258000,"y":0}]},"mark":{"type":"line","color":"black","strokeWidth":1.4}},
  {"data":{"values":[{"x":-48.7,"x2":257000,"y":15.3}]},"mark":{"type":"rule","color":"black","strokeWidth":2},"encoding":{"x2":{"field":"x2"}}},
  {"data":{"values":[{"x":-48.7,"y":15.3},{"x":789,"y":15.3},{"x":257000,"y":15.3}]},"mark":{"type":"tick","orient":"vertical","color":"black","size":11,"thickness":1.5,"opacity":1}},
  {"data":{"values":[{"x":-40.4,"y":16.0,"t":"34.9"}]},"mark":{"type":"text","fontSize":22,"align":"left","baseline":"alphabetic"},"encoding":{"text":{"field":"t"}}},
  {"data":{"values":[{"x":211000,"y":16.0,"t":"65.1"}]},"mark":{"type":"text","fontSize":22,"align":"right","baseline":"alphabetic"},"encoding":{"text":{"field":"t"}}}
 ]
},
{
 "width":255,"height":66,"view":{"stroke":null},
 "encoding":{"x":{"field":"x","type":"quantitative","scale":{"domain":[0,1],"nice":false,"zero":false},"axis":null},"y":{"field":"y","type":"quantitative","scale":{"domain":[0,1],"nice":false,"zero":false},"axis":null}},
 "layer":[
  {"data":{"values":[{"x":0.039,"y":0.455,"x2":1.098,"y2":0.455}]},"mark":{"type":"rule","color":"black","strokeWidth":2,"clip":false},"encoding":{"x2":{"field":"x2"},"y2":{"field":"y2"}}},
  {"data":{"values":[{"x":1.275,"y":0.455,"t":"TNFR2"}]},"mark":{"type":"text","fontSize":25,"align":"center","baseline":"middle","clip":false},"encoding":{"text":{"field":"t"}}}
 ]
},
{
 "width":255,"height":66,"view":{"stroke":null},
 "encoding":{"x":{"field":"x","type":"quantitative","scale":{"domain":[0,1],"nice":false,"zero":false},"axis":null},"y":{"field":"y","type":"quantitative","scale":{"domain":[0,1],"nice":false,"zero":false},"axis":null}},
 "layer":[
  {"data":{"values":[{"x":-0.176,"y":0.455,"x2":0.757,"y2":0.455}]},"mark":{"type":"rule","color":"black","strokeWidth":2,"clip":false},"encoding":{"x2":{"field":"x2"},"y2":{"field":"y2"}}},
  {"data":{"values":[{"x":0.776,"y":0.455,"a":0,"s":400}]},"mark":{"type":"point","shape":"M-1,-1.1L1,0L-1,1.1Z","filled":true,"opacity":1,"color":"black","clip":false},"encoding":{"angle":{"field":"a","type":"quantitative","scale":null},"size":{"field":"s","type":"quantitative","scale":null}}}
 ]
},
{
 "width":255,"height":255,
 "encoding":{
  "x":{"field":"x","type":"quantitative","scale":{"type":"symlog","constant":30,"domain":[-53,258000],"nice":false},"axis":{"values":[-50,-40,-30,-20,-10,0,10,20,30,40,50,60,70,80,90,100,200,300,400,500,600,700,800,900,1000,2000,3000,4000,5000,6000,7000,8000,9000,10000,20000,30000,40000,50000,60000,70000,80000,90000,100000,200000],"labelExpr":"datum.value == 0 ? '0' : datum.value == 100 ? '10\u00b2' : datum.value == 1000 ? '10\u00b3' : datum.value == 10000 ? '10\u2074' : datum.value == 100000 ? '10\u2075' : ''","tickSize":{"condition":{"test":"indexof([0,100,1000,10000,100000], datum.value) >= 0","value":6},"value":3},"title":null}},
  "y":{"field":"y","type":"quantitative","scale":{"domain":[0,50.8],"nice":false,"zero":false},"axis":{"values":[0,2,4,6,8,10,12,14,16,18,20,22,24,26,28,30,32,34,36,38,40,42,44,46,48,50],"labelExpr":"datum.value % 10 == 0 ? datum.label : ''","tickSize":{"condition":{"test":"datum.value % 10 == 0","value":6},"value":3},"title":"# Cells","titleFontSize":17,"titleFontWeight":"bold"}}
 },
 "layer":[
  {"data":{"values":[{"x":-53,"y":22},{"x":-45.2,"y":9.9},{"x":-35.9,"y":10.4},{"x":-27.8,"y":13.1},{"x":-20.7,"y":13.8},{"x":-16.3,"y":14.1},{"x":-11.6,"y":11.8},{"x":-7.5,"y":10.8},{"x":-3.8,"y":14.4},{"x":-1.2,"y":19.7},{"x":2.0,"y":17.1},{"x":6.5,"y":16.4},{"x":11.6,"y":16.7},{"x":17.5,"y":14.4},{"x":24.2,"y":18.4},{"x":31.7,"y":22.4},{"x":40.4,"y":25.0},{"x":48.2,"y":22.0},{"x":55.7,"y":25.0},{"x":67.7,"y":26.3},{"x":81.4,"y":30.3},{"x":92,"y":32.3},{"x":102,"y":30.3},{"x":115,"y":28.0},{"x":129,"y":31.6},{"x":142,"y":37.6},{"x":158,"y":38.2},{"x":185,"y":43.5},{"x":199,"y":48.8},{"x":225,"y":42.9},{"x":268,"y":45.5},{"x":288,"y":45.2},{"x":319,"y":42.5},{"x":358,"y":37.6},{"x":400,"y":38.9},{"x":448,"y":38.6},{"x":508,"y":29.0},{"x":584,"y":27.3},{"x":643,"y":24.3},{"x":717,"y":18.4},{"x":800,"y":13.8},{"x":915,"y":13.9},{"x":1008,"y":10.4},{"x":1107,"y":12.4},{"x":1233,"y":11.8},{"x":1410,"y":10.4},{"x":1611,"y":10.4},{"x":1843,"y":9.9},{"x":2105,"y":10.8},{"x":2403,"y":9.1},{"x":2748,"y":5.2},{"x":3135,"y":8.8},{"x":3580,"y":10.4},{"x":4084,"y":9.8},{"x":4790,"y":10.8},{"x":5840,"y":9.5},{"x":6960,"y":11.1},{"x":7930,"y":10.8},{"x":8690,"y":13.6},{"x":9890,"y":11.1},{"x":11300,"y":11.8},{"x":12860,"y":12.3},{"x":14660,"y":10.4},{"x":16700,"y":10.3},{"x":19100,"y":9.5},{"x":21800,"y":8.5},{"x":24800,"y":7.0},{"x":28300,"y":6.5},{"x":32300,"y":4.8},{"x":36800,"y":2.8},{"x":40900,"y":1.9},{"x":48500,"y":1.0},{"x":56800,"y":0.5},{"x":69100,"y":0.2},{"x":84200,"y":0},{"x":258000,"y":0}]},"mark":{"type":"line","color":"black","strokeWidth":1.4}},
  {"data":{"values":[{"x":71,"x2":240,"y":39.75,"y2":43.2}]},"mark":{"type":"rect","color":"white","opacity":1},"encoding":{"x2":{"field":"x2"},"y2":{"field":"y2"}}},
  {"data":{"values":[{"x":-5.6,"x2":64800,"y":38.6}]},"mark":{"type":"rule","color":"black","strokeWidth":2},"encoding":{"x2":{"field":"x2"}}},
  {"data":{"values":[{"x":-5.6,"y":38.6},{"x":1182,"y":38.6},{"x":64800,"y":38.6}]},"mark":{"type":"tick","orient":"vertical","color":"black","size":11,"thickness":1.5,"opacity":1}},
  {"data":{"values":[{"x":135,"y":39.7,"t":"67"},{"x":8130,"y":39.7,"t":"21.1"}]},"mark":{"type":"text","fontSize":22,"align":"center","baseline":"alphabetic"},"encoding":{"text":{"field":"t"}}}
 ]
},
{
 "width":255,"height":255,
 "encoding":{
  "x":{"field":"x","type":"quantitative","scale":{"type":"symlog","constant":30,"domain":[-53,258000],"nice":false},"axis":{"values":[-50,-40,-30,-20,-10,0,10,20,30,40,50,60,70,80,90,100,200,300,400,500,600,700,800,900,1000,2000,3000,4000,5000,6000,7000,8000,9000,10000,20000,30000,40000,50000,60000,70000,80000,90000,100000,200000],"labelExpr":"datum.value == 0 ? '0' : datum.value == 100 ? '10\u00b2' : datum.value == 1000 ? '10\u00b3' : datum.value == 10000 ? '10\u2074' : datum.value == 100000 ? '10\u2075' : ''","tickSize":{"condition":{"test":"indexof([0,100,1000,10000,100000], datum.value) >= 0","value":6},"value":3},"title":null}},
  "y":{"field":"y","type":"quantitative","scale":{"domain":[0,21.7],"nice":false,"zero":false},"axis":{"values":[0,1,2,3,4,5,6,7,8,9,10,11,12,13,14,15,16,17,18,19,20,21],"labelExpr":"datum.value % 5 == 0 ? datum.label : ''","tickSize":{"condition":{"test":"datum.value % 5 == 0","value":6},"value":3},"title":"# Cells","titleFontSize":17,"titleFontWeight":"bold"}}
 },
 "layer":[
  {"data":{"values":[{"x":-52.4,"y":1.47},{"x":-44.2,"y":0.34},{"x":-35,"y":0.2},{"x":-20,"y":0.2},{"x":-6.1,"y":0.28},{"x":2.5,"y":0.28},{"x":12.2,"y":0.28},{"x":24.9,"y":0.25},{"x":32.6,"y":0.2},{"x":41.3,"y":0.54},{"x":53.5,"y":0.76},{"x":69,"y":0.76},{"x":90.6,"y":0.99},{"x":117,"y":1.47},{"x":137,"y":0.85},{"x":161,"y":0.9},{"x":202,"y":1.89},{"x":253,"y":2.6},{"x":314,"y":2.12},{"x":389,"y":2.74},{"x":481,"y":2.88},{"x":552,"y":3.87},{"x":634,"y":5.0},{"x":698,"y":5.14},{"x":834,"y":5.0},{"x":954,"y":5.42},{"x":1092,"y":6.41},{"x":1248,"y":6.55},{"x":1431,"y":5.85},{"x":1635,"y":5.28},{"x":1866,"y":5.85},{"x":2190,"y":6.69},{"x":2604,"y":7.26},{"x":2895,"y":8.67},{"x":3261,"y":7.54},{"x":3627,"y":7.12},{"x":4140,"y":9.24},{"x":4758,"y":11.2},{"x":5421,"y":12.2},{"x":6021,"y":11.9},{"x":6600,"y":13.8},{"x":7239,"y":15.6},{"x":8037,"y":15.7},{"x":8928,"y":14.0},{"x":9780,"y":15.5},{"x":10725,"y":15.6},{"x":11910,"y":13.2},{"x":13230,"y":15.5},{"x":14500,"y":16.9},{"x":15480,"y":20.3},{"x":16530,"y":20.5},{"x":17670,"y":19.7},{"x":18840,"y":21.1},{"x":20640,"y":19.1},{"x":22950,"y":16.6},{"x":25500,"y":15.7},{"x":27930,"y":15.7},{"x":29850,"y":15.9},{"x":33180,"y":13.2},{"x":36360,"y":12.6},{"x":39870,"y":8.4},{"x":44280,"y":4.2},{"x":50460,"y":2.2},{"x":61440,"y":0.76},{"x":74820,"y":0.2},{"x":91080,"y":0},{"x":258000,"y":0}]},"mark":{"type":"line","color":"black","strokeWidth":1.4}},
  {"data":{"values":[{"x":3540,"x2":20760,"y":17.0,"y2":18.7}]},"mark":{"type":"rect","color":"white","opacity":1},"encoding":{"x2":{"field":"x2"},"y2":{"field":"y2"}}},
  {"data":{"values":[{"x":-6.1,"x2":65600,"y":16.5}]},"mark":{"type":"rule","color":"black","strokeWidth":2},"encoding":{"x2":{"field":"x2"}}},
  {"data":{"values":[{"x":-6.1,"y":16.5},{"x":1200,"y":16.5},{"x":65600,"y":16.5}]},"mark":{"type":"tick","orient":"vertical","color":"black","size":11,"thickness":1.5,"opacity":1}},
  {"data":{"values":[{"x":142,"y":17.1,"t":"13.1"},{"x":8570,"y":17.1,"t":"85.7"}]},"mark":{"type":"text","fontSize":22,"align":"center","baseline":"alphabetic"},"encoding":{"text":{"field":"t"}}}
 ]
},
{
 "width":255,"height":66,"view":{"stroke":null},
 "encoding":{"x":{"field":"x","type":"quantitative","scale":{"domain":[0,1],"nice":false,"zero":false},"axis":null},"y":{"field":"y","type":"quantitative","scale":{"domain":[0,1],"nice":false,"zero":false},"axis":null}},
 "layer":[
  {"data":{"values":[{"x":0.059,"y":0.44,"x2":1.098,"y2":0.44}]},"mark":{"type":"rule","color":"black","strokeWidth":2,"clip":false},"encoding":{"x2":{"field":"x2"},"y2":{"field":"y2"}}},
  {"data":{"values":[{"x":1.294,"y":0.5,"t":"ICOS"}]},"mark":{"type":"text","fontSize":25,"align":"center","baseline":"middle","clip":false},"encoding":{"text":{"field":"t"}}}
 ]
},
{
 "width":255,"height":66,"view":{"stroke":null},
 "encoding":{"x":{"field":"x","type":"quantitative","scale":{"domain":[0,1],"nice":false,"zero":false},"axis":null},"y":{"field":"y","type":"quantitative","scale":{"domain":[0,1],"nice":false,"zero":false},"axis":null}},
 "layer":[
  {"data":{"values":[{"x":-0.263,"y":0.53,"x2":0.769,"y2":0.53}]},"mark":{"type":"rule","color":"black","strokeWidth":2,"clip":false},"encoding":{"x2":{"field":"x2"},"y2":{"field":"y2"}}},
  {"data":{"values":[{"x":0.816,"y":0.53,"a":0,"s":400}]},"mark":{"type":"point","shape":"M-1,-1.1L1,0L-1,1.1Z","filled":true,"opacity":1,"color":"black","clip":false},"encoding":{"angle":{"field":"a","type":"quantitative","scale":null},"size":{"field":"s","type":"quantitative","scale":null}}}
 ]
},
{
 "width":255,"height":255,
 "encoding":{
  "x":{"field":"x","type":"quantitative","scale":{"type":"log","domain":[1,10000],"nice":false},"axis":{"values":[1,2,3,4,5,6,7,8,9,10,20,30,40,50,60,70,80,90,100,200,300,400,500,600,700,800,900,1000,2000,3000,4000,5000,6000,7000,8000,9000,10000],"labelExpr":"datum.value == 1 ? '10\u2070' : datum.value == 10 ? '10\u00b9' : datum.value == 100 ? '10\u00b2' : datum.value == 1000 ? '10\u00b3' : datum.value == 10000 ? '10\u2074' : ''","tickSize":{"condition":{"test":"indexof([1,10,100,1000,10000], datum.value) >= 0","value":6},"value":3},"title":null}},
  "y":{"field":"y","type":"quantitative","scale":{"domain":[0,15.6],"nice":false,"zero":false},"axis":{"values":[0,1,2,3,4,5,6,7,8,9,10,11,12,13,14,15],"labelExpr":"datum.value % 5 == 0 ? datum.label : ''","tickSize":{"condition":{"test":"datum.value % 5 == 0","value":6},"value":3},"title":"# Cells","titleFontSize":17,"titleFontWeight":"bold"}}
 },
 "layer":[
  {"data":{"values":[{"x":1,"y":0},{"x":1.01,"y":3.2},{"x":1.05,"y":3.02},{"x":1.13,"y":2.61},{"x":1.24,"y":1.96},{"x":1.4,"y":1.9},{"x":1.58,"y":2.1},{"x":1.83,"y":2.16},{"x":2.06,"y":2.65},{"x":2.33,"y":2.4},{"x":2.72,"y":2.65},{"x":3.07,"y":2.4},{"x":3.47,"y":2.3},{"x":3.91,"y":2.16},{"x":4.42,"y":3.02},{"x":4.98,"y":4.14},{"x":5.42,"y":3.83},{"x":5.97,"y":3.63},{"x":6.57,"y":3.63},{"x":7.16,"y":3.42},{"x":8.58,"y":3.83},{"x":9.91,"y":4.69},{"x":10.9,"y":4.6},{"x":12.0,"y":4.28},{"x":13.6,"y":4.14},{"x":14.9,"y":3.83},{"x":16.9,"y":3.83},{"x":19.0,"y":4.54},{"x":20.5,"y":4.03},{"x":22.0,"y":3.63},{"x":24.8,"y":3.93},{"x":28.7,"y":4.14},{"x":31.6,"y":4.95},{"x":34.4,"y":5.1},{"x":37.4,"y":4.34},{"x":41.2,"y":3.87},{"x":46.5,"y":4.0},{"x":55.7,"y":4.24},{"x":62.8,"y":4.65},{"x":70.9,"y":4.9},{"x":80.0,"y":4.81},{"x":88.1,"y":6.28},{"x":95.9,"y":5.87},{"x":103,"y":5.26},{"x":111,"y":6.18},{"x":122,"y":7.7},{"x":134,"y":8.3},{"x":148,"y":8.42},{"x":159,"y":9.74},{"x":171,"y":11.2},{"x":180,"y":13.6},{"x":193,"y":13.9},{"x":210,"y":13.7},{"x":229,"y":13.8},{"x":246,"y":14.4},{"x":267,"y":15.2},{"x":294,"y":15.3},{"x":321,"y":15.1},{"x":344,"y":13.2},{"x":361,"y":11.2},{"x":371,"y":9.1},{"x":398,"y":7.9},{"x":434,"y":7.5},{"x":472,"y":6.5},{"x":520,"y":4.24},{"x":573,"y":2.6},{"x":646,"y":1.79},{"x":746,"y":1.28},{"x":895,"y":0.98},{"x":1072,"y":0.82},{"x":1211,"y":0.57},{"x":1397,"y":0.41},{"x":1636,"y":0.57},{"x":1845,"y":0.41},{"x":2081,"y":0.16},{"x":2350,"y":0},{"x":10000,"y":0}]},"mark":{"type":"line","color":"black","strokeWidth":1.4}},
  {"data":{"values":[{"x":1.015,"y":0,"y2":3.1}]},"mark":{"type":"rule","color":"black","strokeWidth":4},"encoding":{"y2":{"field":"y2"}}},
  {"data":{"values":[{"x":137,"x2":697,"y":11.6,"y2":12.9}]},"mark":{"type":"rect","color":"white","opacity":1},"encoding":{"x2":{"field":"x2"},"y2":{"field":"y2"}}},
  {"data":{"values":[{"x":2.41,"x2":746,"y":11.23}]},"mark":{"type":"rule","color":"black","strokeWidth":2},"encoding":{"x2":{"field":"x2"}}},
  {"data":{"values":[{"x":2.41,"y":11.23},{"x":133,"y":11.23},{"x":746,"y":11.23}]},"mark":{"type":"tick","orient":"vertical","color":"black","size":11,"thickness":1.5,"opacity":1}},
  {"data":{"values":[{"x":17.7,"y":11.68,"t":"45.5"},{"x":309,"y":11.68,"t":"46.9"}]},"mark":{"type":"text","fontSize":22,"align":"center","baseline":"alphabetic"},"encoding":{"text":{"field":"t"}}}
 ]
},
{
 "width":255,"height":255,
 "encoding":{
  "x":{"field":"x","type":"quantitative","scale":{"type":"log","domain":[1,10000],"nice":false},"axis":{"values":[1,2,3,4,5,6,7,8,9,10,20,30,40,50,60,70,80,90,100,200,300,400,500,600,700,800,900,1000,2000,3000,4000,5000,6000,7000,8000,9000,10000],"labelExpr":"datum.value == 1 ? '10\u2070' : datum.value == 10 ? '10\u00b9' : datum.value == 100 ? '10\u00b2' : datum.value == 1000 ? '10\u00b3' : datum.value == 10000 ? '10\u2074' : ''","tickSize":{"condition":{"test":"indexof([1,10,100,1000,10000], datum.value) >= 0","value":6},"value":3},"title":null}},
  "y":{"field":"y","type":"quantitative","scale":{"domain":[0,6],"nice":false,"zero":false},"axis":{"values":[0,0.5,1,1.5,2,2.5,3,3.5,4,4.5,5,5.5,6],"labelExpr":"datum.value % 2 == 0 ? format(datum.value, 'd') : ''","tickSize":{"condition":{"test":"datum.value % 2 == 0","value":6},"value":3},"title":"# Cells","titleFontSize":17,"titleFontWeight":"bold"}}
 },
 "layer":[
  {"data":{"values":[{"x":1.02,"y":0},{"x":1.13,"y":0.51},{"x":1.21,"y":1.06},{"x":1.32,"y":1.6},{"x":1.44,"y":1.96},{"x":1.58,"y":2.0},{"x":1.74,"y":1.68},{"x":2.01,"y":1.37},{"x":2.21,"y":1.33},{"x":2.4,"y":1.68},{"x":2.71,"y":2.31},{"x":2.95,"y":3.01},{"x":3.17,"y":3.21},{"x":3.45,"y":2.78},{"x":3.75,"y":2.54},{"x":4.39,"y":2.46},{"x":4.66,"y":2.23},{"x":5.26,"y":1.72},{"x":5.71,"y":2.62},{"x":6.29,"y":3.56},{"x":6.85,"y":4.5},{"x":7.36,"y":3.72},{"x":8.51,"y":2.43},{"x":9.59,"y":3.25},{"x":10.5,"y":3.25},{"x":11.6,"y":3.33},{"x":12.9,"y":3.01},{"x":14.6,"y":2.82},{"x":15.9,"y":3.25},{"x":17.9,"y":3.91},{"x":19.7,"y":3.25},{"x":22.2,"y":2.54},{"x":23.6,"y":2.23},{"x":25.7,"y":2.78},{"x":28.3,"y":3.25},{"x":31.9,"y":3.72},{"x":35.2,"y":3.99},{"x":39.6,"y":4.03},{"x":44.7,"y":4.19},{"x":48.6,"y":4.34},{"x":51.6,"y":4.97},{"x":54.8,"y":5.59},{"x":58.2,"y":5.75},{"x":61.8,"y":5.36},{"x":67.3,"y":4.34},{"x":75.9,"y":4.03},{"x":81.5,"y":4.31},{"x":88.7,"y":4.19},{"x":96.4,"y":3.72},{"x":106,"y":3.4},{"x":117,"y":3.25},{"x":127,"y":2.97},{"x":138,"y":3.56},{"x":152,"y":3.72},{"x":168,"y":3.25},{"x":182,"y":3.01},{"x":201,"y":3.33},{"x":224,"y":3.68},{"x":247,"y":3.17},{"x":271,"y":2.43},{"x":306,"y":2.19},{"x":345,"y":2.07},{"x":389,"y":1.68},{"x":439,"y":1.21},{"x":495,"y":1.13},{"x":558,"y":1.17},{"x":607,"y":0.94},{"x":685,"y":0.9},{"x":745,"y":0.9},{"x":820,"y":1.06},{"x":904,"y":0.86},{"x":982,"y":0.51},{"x":1107,"y":0.27},{"x":1250,"y":0.2},{"x":1496,"y":0.2},{"x":1791,"y":0.2},{"x":2018,"y":0.12},{"x":2421,"y":0},{"x":10000,"y":0}]},"mark":{"type":"line","color":"black","strokeWidth":1.4}},
  {"data":{"values":[{"x":2.49,"x2":754,"y":4.37}]},"mark":{"type":"rule","color":"black","strokeWidth":2},"encoding":{"x2":{"field":"x2"}}},
  {"data":{"values":[{"x":2.49,"y":4.37},{"x":138,"y":4.37},{"x":754,"y":4.37}]},"mark":{"type":"tick","orient":"vertical","color":"black","size":11,"thickness":1.5,"opacity":1}},
  {"data":{"values":[{"x":17.9,"y":4.5,"t":"71.6"},{"x":321,"y":4.5,"t":"20.5"}]},"mark":{"type":"text","fontSize":22,"align":"center","baseline":"alphabetic"},"encoding":{"text":{"field":"t"}}}
 ]
},
{
 "width":255,"height":50,"view":{"stroke":null},
 "encoding":{"x":{"field":"x","type":"quantitative","scale":{"domain":[0,1],"nice":false,"zero":false},"axis":null},"y":{"field":"y","type":"quantitative","scale":{"domain":[0,1],"nice":false,"zero":false},"axis":null}},
 "layer":[
  {"data":{"values":[{"x":0.082,"y":0.36,"x2":1.071,"y2":0.36}]},"mark":{"type":"rule","color":"black","strokeWidth":2,"clip":false},"encoding":{"x2":{"field":"x2"},"y2":{"field":"y2"}}},
  {"data":{"values":[{"x":1.341,"y":0.24,"t":"CD62L"}]},"mark":{"type":"text","fontSize":25,"align":"center","baseline":"middle","clip":false},"encoding":{"text":{"field":"t"}}}
 ]
},
{
 "width":255,"height":50,"view":{"stroke":null},
 "encoding":{"x":{"field":"x","type":"quantitative","scale":{"domain":[0,1],"nice":false,"zero":false},"axis":null},"y":{"field":"y","type":"quantitative","scale":{"domain":[0,1],"nice":false,"zero":false},"axis":null}},
 "layer":[
  {"data":{"values":[{"x":-0.055,"y":0.24,"x2":0.863,"y2":0.24}]},"mark":{"type":"rule","color":"black","strokeWidth":2,"clip":false},"encoding":{"x2":{"field":"x2"},"y2":{"field":"y2"}}},
  {"data":{"values":[{"x":0.902,"y":0.24,"a":0,"s":400}]},"mark":{"type":"point","shape":"M-1,-1.1L1,0L-1,1.1Z","filled":true,"opacity":1,"color":"black","clip":false},"encoding":{"angle":{"field":"a","type":"quantitative","scale":null},"size":{"field":"s","type":"quantitative","scale":null}}}
 ]
}
]
}
